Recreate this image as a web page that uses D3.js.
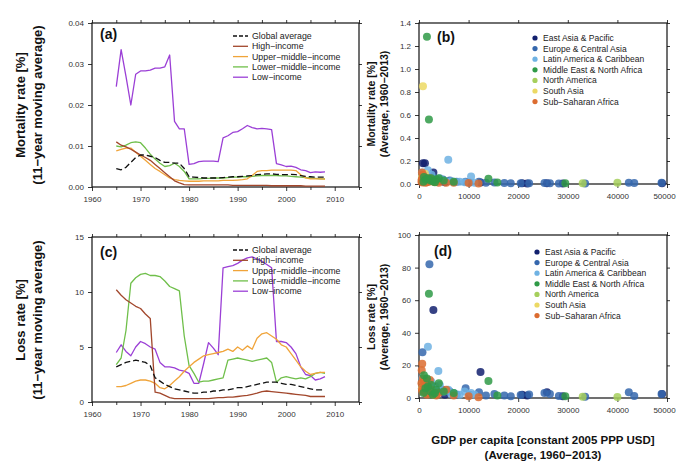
<!DOCTYPE html>
<html>
<head>
<meta charset="utf-8">
<script src="https://cdn.jsdelivr.net/npm/d3@7"></script>
<style>
  body { margin: 0; background: #fff; }
  svg { display: block; font-family: "Liberation Sans", Arial, Helvetica, sans-serif; }
</style>
</head>
<body>
<svg id="chart" width="677" height="461"></svg>
<script>
// ---- Time series: 11-year moving averages, centred years ----
const years = [1965,1966,1967,1968,1969,1970,1971,1972,1973,1974,1975,1976,1977,1978,1979,
  1980,1981,1982,1983,1984,1985,1986,1987,1988,1989,1990,1991,1992,1993,1994,1995,1996,1997,
  1998,1999,2000,2001,2002,2003,2004,2005,2006,2007,2008];

const incomeGroups = ["Global average", "High\u2212income", "Upper\u2212middle\u2212income",
  "Lower\u2212middle\u2212income", "Low\u2212income"];

// Mortality rate [%]
const mortGlobal = [0.0045,0.0042,0.0048,0.0060,0.0072,0.0078,0.0078,0.0075,0.0072,0.0065,0.0060,0.0060,0.0058,0.0058,0.0045,
  0.0025,0.0024,0.0023,0.0022,0.0022,0.0022,0.0022,0.0023,0.0024,0.0025,0.0025,0.0026,0.0027,0.0028,0.0030,0.0031,0.0032,0.0032,
  0.0031,0.0030,0.0030,0.0031,0.0030,0.0028,0.0026,0.0025,0.0024,0.0024,0.0024];
const mortHigh = [0.0110,0.0102,0.0098,0.0092,0.0085,0.0078,0.0072,0.0065,0.0055,0.0045,0.0035,0.0025,0.0015,0.0010,0.0006,
  0.0005,0.0005,0.0005,0.0005,0.0005,0.0005,0.0005,0.0005,0.0005,0.0004,0.0004,0.0004,0.0004,0.0004,0.0004,0.0004,0.0004,0.0003,
  0.0003,0.0003,0.0003,0.0003,0.0003,0.0003,0.0002,0.0002,0.0002,0.0002,0.0002];
const mortUpperMid = [0.0088,0.0092,0.0095,0.0095,0.0085,0.0075,0.0065,0.0055,0.0045,0.0038,0.0030,0.0022,0.0018,0.0016,0.0015,
  0.0014,0.0014,0.0014,0.0015,0.0015,0.0015,0.0015,0.0016,0.0016,0.0016,0.0017,0.0018,0.0020,0.0028,0.0038,0.0040,0.0040,0.0041,
  0.0041,0.0041,0.0041,0.0041,0.0040,0.0030,0.0022,0.0020,0.0020,0.0020,0.0019];
const mortLowerMid = [0.0100,0.0098,0.0102,0.0108,0.0110,0.0108,0.0095,0.0080,0.0068,0.0058,0.0050,0.0052,0.0058,0.0050,0.0038,
  0.0020,0.0020,0.0020,0.0021,0.0021,0.0022,0.0022,0.0022,0.0023,0.0024,0.0024,0.0025,0.0025,0.0026,0.0027,0.0028,0.0028,0.0028,
  0.0028,0.0027,0.0027,0.0026,0.0025,0.0024,0.0023,0.0022,0.0021,0.0020,0.0020];
const mortLow = [0.0245,0.0335,0.0270,0.0200,0.0275,0.0283,0.0283,0.0285,0.0290,0.0290,0.0293,0.0322,0.0160,0.0142,0.0142,
  0.0055,0.0057,0.0062,0.0063,0.0063,0.0063,0.0062,0.0120,0.0125,0.0133,0.0135,0.0142,0.0150,0.0145,0.0142,0.0143,0.0142,0.0140,
  0.0057,0.0054,0.0050,0.0051,0.0048,0.0042,0.0040,0.0035,0.0037,0.0036,0.0037];

// Loss rate [%]
const lossGlobal = [3.2,3.4,3.6,3.7,3.8,3.7,3.6,3.3,2.2,1.9,1.6,1.4,1.2,1.1,1.0,
  0.9,0.8,0.8,0.9,0.9,1.0,1.0,1.1,1.1,1.2,1.3,1.3,1.4,1.5,1.6,1.7,1.8,1.8,
  1.8,1.7,1.6,1.6,1.5,1.4,1.3,1.2,1.1,1.1,1.1];
const lossHigh = [10.2,9.7,9.3,9.0,8.7,8.5,8.0,7.6,0.9,0.8,0.6,0.4,0.3,0.3,0.3,
  0.3,0.3,0.3,0.3,0.3,0.35,0.4,0.4,0.45,0.45,0.5,0.55,0.6,0.7,0.8,0.95,1.0,0.95,
  0.9,0.85,0.8,0.75,0.7,0.65,0.6,0.5,0.5,0.5,0.5];
const lossUpperMid = [1.4,1.4,1.5,1.7,1.9,2.0,2.0,1.9,1.7,1.3,1.2,1.5,1.9,2.3,2.8,
  3.2,3.6,3.9,4.2,4.3,4.4,4.5,4.6,4.8,4.6,5.0,4.7,5.1,4.8,5.8,6.2,6.3,6.0,
  5.7,5.2,5.0,4.4,3.8,3.2,2.8,2.5,2.6,2.7,2.7];
const lossLowerMid = [3.4,4.0,6.5,10.8,11.3,11.6,11.7,11.5,11.5,11.4,11.0,10.5,10.3,10.1,6.0,
  3.3,2.6,1.8,1.9,1.9,2.0,2.1,2.2,3.8,3.9,4.0,3.9,3.8,3.7,3.8,3.9,4.0,3.6,
  1.8,2.2,2.3,2.2,2.1,2.2,2.1,2.3,2.6,2.7,2.6];
const lossLow = [4.5,5.2,4.6,4.2,5.0,5.5,5.3,5.0,4.8,3.6,3.2,3.2,3.1,2.9,2.8,
  2.6,1.7,1.7,3.5,5.4,4.9,4.3,12.2,12.3,12.4,12.6,12.9,13.1,13.2,13.0,12.8,12.5,12.2,
  5.5,5.5,5.4,5.0,4.4,3.2,2.5,2.4,2.0,2.1,2.3];

// ---- Country averages 1960-2013: [GDP per capita, mortality rate %, loss rate %] ----
const regions = ["East Asia & Pacific", "Europe & Central Asia", "Latin America & Caribbean",
  "Middle East & North Africa", "North America", "South Asia", "Sub\u2212Saharan Africa"];

const eastAsia = [[800,0.18,7],[1200,0.18,5],[2900,0.10,54],[2000,0.05,9],[1600,0.07,3],[3800,0.03,4],
  [5200,0.015,2],[12400,0.012,16],[20800,0.006,2],[21800,0.005,1.5],[25800,0.006,3.5],[29000,0.004,1],
  [49000,0.006,2.5],[600,0.04,6],[3300,0.02,7]];
const europe = [[2100,0.03,82],[700,0.06,28],[9400,0.02,6],[12100,0.02,3.5],[15200,0.012,2.5],[17200,0.008,1.5],
  [20500,0.007,1.8],[22200,0.006,2.2],[25300,0.008,3],[26400,0.007,2.5],[28200,0.005,1.2],[33500,0.004,0.8],
  [42300,0.01,3.5],[43400,0.008,1.2],[48900,0.01,2.5],[6200,0.03,4],[7600,0.02,2.2],[4800,0.04,5],
  [3100,0.05,6],[10200,0.012,2],[13500,0.01,1.5],[18500,0.006,1]];
const latinAmerica = [[1800,0.12,31.5],[5900,0.21,5],[10500,0.065,3],[3900,0.04,16.5],[4200,0.05,8],[2500,0.08,10],
  [3000,0.04,6],[5000,0.03,4],[7000,0.02,3],[8200,0.02,2],[9200,0.015,4],[11200,0.01,2],[700,0.1,12],
  [6500,0.025,2.5],[1500,0.06,9]];
const middleEast = [[1600,1.28,12],[2000,0.56,64],[14000,0.045,10.5],[2500,0.05,8],[3500,0.04,5],[5000,0.03,4],
  [15800,0.012,1.5],[29500,0.006,1],[1000,0.06,14],[7000,0.02,3],[4000,0.05,9],[1300,0.04,6],[2300,0.03,4],
  [900,0.02,3],[2800,0.025,2],[1800,0.05,7],[3200,0.015,3]];
const northAmerica = [[40000,0.01,0.6],[33000,0.006,0.8]];
const southAsia = [[800,0.85,10],[1000,0.05,8],[1500,0.04,4],[2500,0.03,3],[600,0.06,6],[3000,0.02,2],[1200,0.09,12]];
const subSaharan = [[650,0.03,21],[550,0.04,17],[900,0.05,10],[1200,0.03,6],[1500,0.02,4],[2000,0.02,3],
  [2500,0.03,5],[3000,0.02,2],[4000,0.01,3],[5500,0.01,5],[800,0.08,12],[1100,0.06,8],[1800,0.04,7],
  [500,0.02,9],[1300,0.01,3],[10000,0.008,1],[12000,0.005,0.5],[7000,0.01,1.5],[2200,0.05,11],
  [600,0.1,5],[1600,0.015,2],[3500,0.02,1.5],[700,0.012,4]];

// ---- Tick values ----
const yearTicks = [1960,1970,1980,1990,2000,2010];
const yearMinor = [1965,1975,1985,1995,2005,2015];
const gdpTicks = [0,10000,20000,30000,40000,50000];
const mortTicks = [0,0.01,0.02,0.03,0.04];
const lossTicks = [0,5,10,15];
const mortAvgTicks = [0,0.2,0.4,0.6,0.8,1.0,1.2,1.4];
const lossAvgTicks = [0,20,40,60,80,100];

// ---- Styles ----
const lineColors = ["#111111", "#a2472c", "#f0a43a", "#6fbf4a", "#9b3fd6"];
const regionColors = ["#12206e", "#3567ad", "#6fb2e3", "#2f9a47", "#a6cf5c", "#ecd964", "#dc6c30"];

const svg = d3.select("#chart");

function drawFrame(g, x, y, o) {
  const [x0, x1] = x.range();
  const [y0, y1] = y.range();
  g.append("g").attr("class", "xaxis").attr("transform", `translate(0,${y0})`)
    .call(d3.axisBottom(x).tickValues(o.xTicks).tickSize(4).tickPadding(5).tickFormat(o.xFmt));
  if (o.xMinor) {
    g.append("g").attr("transform", `translate(0,${y0})`)
      .call(d3.axisBottom(x).tickValues(o.xMinor).tickSize(3).tickFormat(""));
  }
  g.append("g").attr("transform", `translate(0,${y1})`)
    .call(d3.axisTop(x).tickValues(o.xTop).tickSize(3).tickFormat(""));
  g.append("g").attr("transform", `translate(${x0},0)`)
    .call(d3.axisLeft(y).tickValues(o.yTicks).tickSize(4).tickPadding(4).tickFormat(o.yFmt));
  g.append("g").attr("transform", `translate(${x1},0)`)
    .call(d3.axisRight(y).tickValues(o.yTicks).tickSize(3).tickFormat(""));
  g.selectAll(".domain").remove();
  g.selectAll(".tick line").attr("stroke", "#222").attr("stroke-width", 0.9);
  g.selectAll(".tick text").attr("font-size", 8).attr("fill", "#333")
    .attr("font-family", "Liberation Sans, Arial, sans-serif");
  // keep the last x label inside the page edge
  if (o.nudgeLast) {
    g.selectAll(".xaxis .tick text").filter((d, i, n) => i === n.length - 1).attr("dx", -3);
  }
  g.append("rect").attr("x", x0).attr("y", y1).attr("width", x1 - x0).attr("height", y0 - y1)
    .attr("fill", "none").attr("stroke", "#111").attr("stroke-width", 1.2);
}

function yLabel(lines, cx, cy, size) {
  lines.forEach((t, i) => {
    svg.append("text")
      .attr("transform", `translate(${cx[i]},${cy}) rotate(-90)`)
      .attr("text-anchor", "middle").attr("dominant-baseline", "central")
      .attr("font-size", size).attr("font-weight", "bold").attr("fill", "#111")
      .text(t);
  });
}

function tag(text, x, y) {
  svg.append("text").attr("x", x).attr("y", y).attr("font-size", 14)
    .attr("font-weight", "bold").attr("fill", "#111").text(text);
}

// ---- Line panels (a) and (c) ----
function linePanel(top, bottom, maxY, ticks, fmt, series, legendTop) {
  const g = svg.append("g");
  const x = d3.scaleLinear().domain([1960, 2015]).range([92, 359]);
  const y = d3.scaleLinear().domain([0, maxY]).range([bottom, top]);
  drawFrame(g, x, y, {
    xTicks: yearTicks, xMinor: yearMinor, xTop: yearTicks.concat(yearMinor),
    xFmt: d3.format("d"), yTicks: ticks, yFmt: fmt
  });
  const line = d3.line().x((d, i) => x(years[i])).y(d => y(d));
  // low-income groups underneath, global average on top
  [4, 3, 2, 1, 0].forEach(k => {
    g.append("path").datum(series[k]).attr("d", line)
      .attr("fill", "none").attr("stroke", lineColors[k]).attr("stroke-width", 1.3)
      .attr("stroke-linejoin", "round")
      .attr("stroke-dasharray", k === 0 ? "6,3" : null);
  });
  incomeGroups.forEach((name, k) => {
    const ly = legendTop + k * 10.3;
    g.append("line").attr("x1", 233).attr("x2", 248).attr("y1", ly).attr("y2", ly)
      .attr("stroke", lineColors[k]).attr("stroke-width", 1.3)
      .attr("stroke-dasharray", k === 0 ? "4,2" : null);
    g.append("text").attr("x", 252).attr("y", ly).attr("dominant-baseline", "central")
      .attr("font-size", 8.8).attr("fill", "#222").text(name);
  });
}

linePanel(23, 187, 0.04, mortTicks, d3.format(".2f"),
  [mortGlobal, mortHigh, mortUpperMid, mortLowerMid, mortLow], 36);
linePanel(237, 402, 15, lossTicks, d3.format("d"),
  [lossGlobal, lossHigh, lossUpperMid, lossLowerMid, lossLow], 250);

// ---- Scatter panels (b) and (d) ----
const regionData = [eastAsia, europe, latinAmerica, middleEast, northAmerica, southAsia, subSaharan];

function scatterPanel(top, bottom, maxY, ticks, fmt, col, legendTop, legendX) {
  const g = svg.append("g");
  const x = d3.scaleLinear().domain([0, 50000]).range([419, 667]);
  const y = d3.scaleLinear().domain([0, maxY]).range([bottom, top]);
  drawFrame(g, x, y, {
    xTicks: gdpTicks, xTop: gdpTicks, xFmt: d3.format("d"), yTicks: ticks, yFmt: fmt,
    nudgeLast: true
  });
  const order = [0, 1, 2, 4, 5, 6, 3];
  order.forEach(k => {
    g.selectAll(null).data(regionData[k]).join("circle")
      .attr("cx", d => x(d[0])).attr("cy", d => y(d[col])).attr("r", 4)
      .attr("fill", regionColors[k]).attr("fill-opacity", 0.85);
  });
  regions.forEach((name, k) => {
    const ly = legendTop + k * 10.6;
    g.append("circle").attr("cx", legendX).attr("cy", ly).attr("r", 2.6).attr("fill", regionColors[k]);
    g.append("text").attr("x", legendX + 8).attr("y", ly).attr("dominant-baseline", "central")
      .attr("font-size", 8.5).attr("fill", "#222").text(name);
  });
}

scatterPanel(23, 184, 1.4, mortAvgTicks, d3.format(".1f"), 1, 38, 535);
scatterPanel(235, 398, 100, lossAvgTicks, d3.format("d"), 2, 252, 537);

// ---- Axis titles and panel tags ----
yLabel(["Mortality rate [%]", "(11\u2212year moving average)"], [20, 37], 105, 13);
yLabel(["Loss rate [%]", "(11\u2212year moving average)"], [20, 37], 320, 13);
yLabel(["Mortality rate [%]", "(Average, 1960\u22122013)"], [371, 384], 104, 10.5);
yLabel(["Loss rate [%]", "(Average, 1960\u22122013)"], [371, 384], 317, 10.5);

svg.append("text").attr("x", 543).attr("y", 444).attr("text-anchor", "middle")
  .attr("font-size", 11.5).attr("font-weight", "bold").attr("fill", "#111")
  .text("GDP per capita [constant 2005 PPP USD]");
svg.append("text").attr("x", 543).attr("y", 459).attr("text-anchor", "middle")
  .attr("font-size", 11.5).attr("font-weight", "bold").attr("fill", "#111")
  .text("(Average, 1960\u22122013)");

tag("(a)", 100, 39);
tag("(b)", 437, 42);
tag("(c)", 100, 257);
tag("(d)", 434, 256);
</script>
</body>
</html>
